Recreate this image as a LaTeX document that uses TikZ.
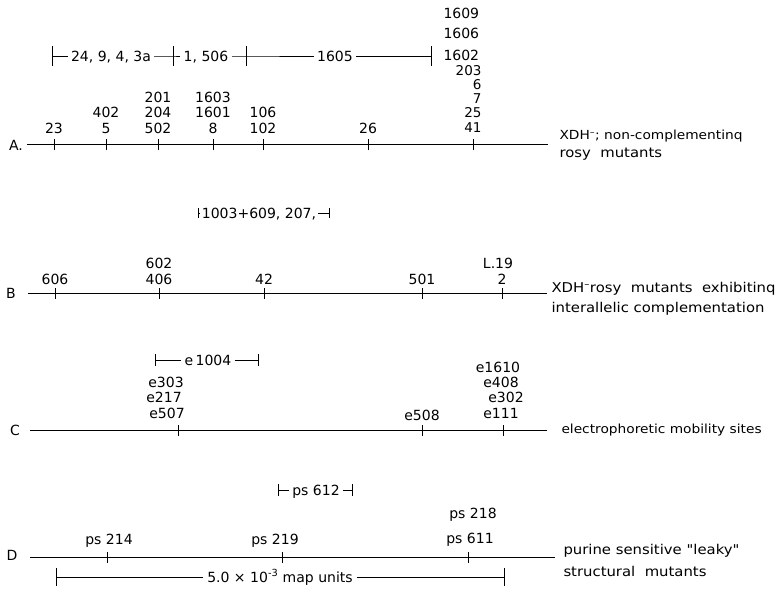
\documentclass[tikz,border=0pt]{standalone}
\usepackage{fontspec}
\newfontfamily\mapfont{DejaVu Sans}
\newfontfamily\mapwide{DejaVu Sans}[FakeStretch=1.1]
\usetikzlibrary{positioning}
\newcommand{\mapnum}{\mapfont\fontsize{14}{16}\selectfont}
\newcommand{\mapsmall}{\mapfont\fontsize{13.5}{15}\selectfont}
\newcommand{\mapdesc}{\mapwide\fontsize{13.5}{16}\selectfont}

\begin{document}
\begin{tikzpicture}[x=1pt, y=-1pt, line width=1pt,
  lbl/.style={font=\mapnum, inner sep=0pt, text height=10pt, text depth=0pt},
  stk/.style={lbl, font=\mapsmall, text height=9.5pt, anchor=east},
  brk/.style={lbl, inner xsep=3pt},
  desc/.style={font=\mapdesc, anchor=west, inner sep=0pt, text height=9.5pt, text depth=0pt}]
\fill[white] (0,0) rectangle (776,590);
\useasboundingbox (0,0) rectangle (776,590);

% A: XDH- non-complementing
\node[lbl] (rA) at (16,145) {A.};
\coordinate (A0) at (27,144);
\coordinate (A1) at (548,144);
\draw (A0) -- (A1);
\foreach \n/\x in {23/54,5/106,502/158,8/213,102/263,26/368,41/473}
  \coordinate (tA\n) at (\x,144);
\foreach \n in {23,5,502,8,102,26,41}
  \draw ([yshift=5pt]tA\n) -- ([yshift=-6pt]tA\n);
\foreach \n/\x in {23/54,5/106,502/158,8/213,102/263,26/368}
  \node[lbl] (lA\n) at (\x,128) {\n};
\foreach \n/\x in {402/106,204/158,1601/213,106/263}
  \node[lbl] (lA\n) at (\x,112) {\n};
\foreach \n/\x in {201/158,1603/213}
  \node[lbl] (lA\n) at (\x,97) {\n};
\foreach \n/\y in {41/128,25/113,7/99,6/85,203/71}
  \node[stk] (lA\n) at (482,\y) {\n};
\foreach \n/\y in {1602/55,1606/33,1609/13}
  \node[lbl, anchor=west] (lA\n) at (443,\y) {\n};
% deletions over A
\coordinate (bA1) at (52,56);
\node[brk] (gA1) at (111,56) {24, 9, 4, 3a};
\coordinate (bA2) at (173,56);
\node[brk] (gA2) at (206,56) {1, 506};
\coordinate (bA3) at (246,56);
\node[brk] (gA3) at (335,56) {1605};
\coordinate (bA4) at (431,56);
\draw (bA1) -- (gA1) -- (bA2) -- (gA2) -- (bA3) -- (gA3) -- (bA4);
\foreach \c in {bA1,bA2,bA3,bA4}
  \draw ([yshift=10pt]\c) -- ([yshift=-10pt]\c);
\node[desc, font=\mapwide\fontsize{12.5}{15}\selectfont] (dA1) at (559,135) {XDH\textsuperscript{–}; non-complementinq};
\node[desc] (dA2) at (559,153) {rosy \ mutants};

% B: interallelic complementation
\node[lbl] (rB) at (11,293) {B};
\coordinate (B0) at (28,293);
\coordinate (B1) at (547,293);
\draw (B0) -- (B1);
\foreach \n/\x in {606/55,406/159,42/264,501/422,2/502}
  \coordinate (tB\n) at (\x,293);
\foreach \n in {606,406,42,501,2}
  \draw ([yshift=5pt]tB\n) -- ([yshift=-6pt]tB\n);
\foreach \n/\x in {606/55,406/159,42/264,501/422,2/502}
  \node[lbl] (lB\n) at (\x,279) {\n};
\node[lbl] (lB602) at (159,263) {602};
\node[lbl] (lBL19) at (498,263) {L.19};
\coordinate (bB1) at (198,213);
\node[brk, inner xsep=1.5pt] (gB1) at (259,213) {1003+609, 207,};
\coordinate (bB2) at (329,213);
\draw (bB1) -- (gB1) -- (bB2);
\foreach \c in {bB1,bB2}
  \draw ([yshift=5pt]\c) -- ([yshift=-5pt]\c);
\node[desc] (dB1) at (551,288) {XDH\textsuperscript{–}rosy \ mutants \ exhibitinq};
\node[desc] (dB2) at (551,308) {interallelic complementation};

% C: electrophoretic sites
\node[lbl] (rC) at (15,430) {C};
\coordinate (C0) at (30,430);
\coordinate (C1) at (547,430);
\draw (C0) -- (C1);
\foreach \n/\x in {507/178,508/422,111/503}
  \coordinate (tC\n) at (\x,430);
\foreach \n in {507,508,111}
  \draw ([yshift=5pt]tC\n) -- ([yshift=-6pt]tC\n);
\foreach \n/\x/\y in {507/167/413,217/164/397,303/166/382,508/422/415,
                      111/501/413,302/506/397,408/501/382,1610/498/367}
  \node[lbl] (lC\n) at (\x,\y) {e\n};
\coordinate (bC1) at (155,360);
\node[brk] (gC1) at (208,360) {e\,1004};
\coordinate (bC2) at (258,360);
\draw (bC1) -- (gC1) -- (bC2);
\foreach \c in {bC1,bC2}
  \draw ([yshift=6pt]\c) -- ([yshift=-6pt]\c);
\node[desc, font=\mapwide\fontsize{12.5}{15}\selectfont] (dC1) at (561,429) {electrophoretic mobility sites};

% D: purine sensitive
\node[lbl] (rD) at (12,555) {D};
\coordinate (D0) at (30,557);
\coordinate (D1) at (555,557);
\draw (D0) -- (D1);
\foreach \n/\x in {214/107,219/282,611/468}
  \coordinate (tD\n) at (\x,557);
\foreach \n in {214,219,611}
  \draw ([yshift=5pt]tD\n) -- ([yshift=-6pt]tD\n);
\foreach \n/\x/\y in {214/109/539,219/275/539,611/470/538,218/473/513}
  \node[lbl] (lD\n) at (\x,\y) {ps \n};
\coordinate (bD1) at (278,490);
\node[brk] (gD1) at (316,490) {ps 612};
\coordinate (bD2) at (352,490);
\draw (bD1) -- (gD1) -- (bD2);
\foreach \c in {bD1,bD2}
  \draw ([yshift=6pt]\c) -- ([yshift=-6pt]\c);
\node[desc] (dD1) at (563,550) {purine sensitive "leaky"};
\node[desc] (dD2) at (563,572) {structural \ mutants};

% scale
\coordinate (s0) at (56,577);
\node[brk, inner xsep=4pt] (sc) at (280,577) {5.0 × 10\textsuperscript{-3} map units};
\coordinate (s1) at (504,577);
\draw (s0) -- (sc) -- (s1);
\foreach \c in {s0,s1}
  \draw ([yshift=9pt]\c) -- ([yshift=-9pt]\c);
\end{tikzpicture}
\end{document}
